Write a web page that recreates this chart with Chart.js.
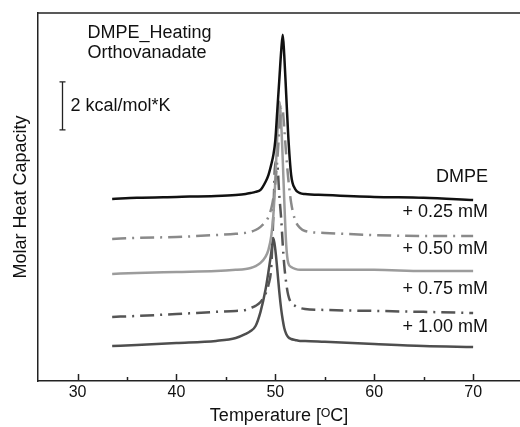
<!DOCTYPE html>
<html>
<head>
<meta charset="utf-8">
<script src="https://cdn.jsdelivr.net/npm/chart.js@4/dist/chart.umd.min.js"></script>
<style>
  html, body { margin: 0; padding: 0; background: #fff; }
  canvas { display: block; }
</style>
</head>
<body>
<canvas id="dsc" width="520" height="427"></canvas>
<script>
// temperature grid (°C), shared by all scans
const temps = [33.5, 36, 40, 44, 46, 47, 47.5, 48, 48.5, 49, 49.3, 49.6, 49.8, 50, 50.2, 50.4, 50.6, 50.75, 50.9, 51.1, 51.3, 51.6, 52, 52.5, 53, 55, 60, 65, 70];

// molar heat capacity (kcal/mol*K), curves offset vertically as in the figure
const dmpe   = [7.58, 7.63, 7.67, 7.71, 7.75, 7.79, 7.83, 7.88, 7.96, 8.29, 8.58, 9.04, 9.42, 10.04, 11.29, 12.54, 13.79, 14.42, 13.58, 11.92, 10.25, 8.58, 8.0, 7.83, 7.79, 7.75, 7.67, 7.63, 7.54];
const van025 = [5.92, 5.96, 6.0, 6.08, 6.13, 6.17, 6.21, 6.29, 6.42, 6.63, 6.83, 7.21, 7.63, 8.25, 9.21, 10.46, 11.42, 11.29, 10.54, 9.42, 8.46, 7.42, 6.71, 6.38, 6.25, 6.17, 6.08, 6.04, 6.04];
const van050 = [4.46, 4.5, 4.54, 4.58, 4.63, 4.67, 4.71, 4.79, 4.92, 5.17, 5.46, 6.08, 6.92, 8.38, 10.25, 11.63, 10.67, 9.21, 7.54, 5.67, 4.92, 4.75, 4.67, 4.63, 4.63, 4.63, 4.63, 4.58, 4.58];
const van075 = [2.67, 2.71, 2.79, 2.88, 2.92, 2.96, 3.04, 3.13, 3.29, 3.63, 4.0, 4.83, 6.92, 9.13, 9.0, 7.75, 6.71, 5.67, 4.83, 4.08, 3.58, 3.25, 3.13, 3.04, 3.0, 2.96, 2.92, 2.88, 2.83];
const van100 = [1.46, 1.5, 1.58, 1.67, 1.79, 1.96, 2.08, 2.29, 2.88, 3.79, 4.54, 5.38, 5.96, 5.46, 4.63, 3.71, 2.96, 2.54, 2.21, 1.96, 1.83, 1.75, 1.71, 1.67, 1.67, 1.63, 1.54, 1.46, 1.42];

const seriesNames = ["DMPE", "+ 0.25 mM", "+ 0.50 mM", "+ 0.75 mM", "+ 1.00 mM"];
const labelLevels = [8.5, 7.04, 5.5, 3.83, 2.25];   // where each curve name sits (kcal/mol*K)
const labelTemp = 71.5;

const titleLines = ["DMPE_Heating", "Orthovanadate"];
const titleTemp = 31.0;
const titleLevels = [14.5, 13.67];

const scaleBarTemp = 28.4;
const scaleBarFrom = 10.46;
const scaleBarSize = 2;   // kcal/mol*K
const scaleBarText = "2 kcal/mol*K";

const FONT = "'Liberation Sans', Arial, sans-serif";
const dashDot = [14, 6, 2, 6];

function pts(vals) {
    return temps.map((t, i) => ({x: t, y: vals[i]}));
}

const styles = [
    {color: "#111111", dash: []},
    {color: "#8a8a8a", dash: dashDot},
    {color: "#9c9c9c", dash: []},
    {color: "#555555", dash: dashDot},
    {color: "#4e4e4e", dash: []}
];
const allSeries = [dmpe, van025, van050, van075, van100];

// frame top line, inward x ticks, scale bar and text labels
const decor = {
    id: "decor",
    afterDraw(chart) {
        const ctx = chart.ctx;
        const a = chart.chartArea;
        const xs = chart.scales.x, ys = chart.scales.y;
        ctx.save();
        ctx.strokeStyle = "#222";
        ctx.lineWidth = 1.5;
        ctx.beginPath();
        ctx.moveTo(a.left, a.top);
        ctx.lineTo(a.right + 10, a.top);
        ctx.stroke();

        // ticks point into the plot
        xs.ticks.forEach(t => {
            if (t.value % 5 !== 0 || t.value < 30 || t.value > 70) return;
            const px = Math.round(xs.getPixelForValue(t.value)) + 0.5;
            const len = t.value % 10 === 0 ? 7 : 4;
            ctx.beginPath();
            ctx.moveTo(px, a.bottom);
            ctx.lineTo(px, a.bottom - len);
            ctx.stroke();
        });

        // 2 kcal/mol*K bar
        const bx = Math.round(xs.getPixelForValue(scaleBarTemp)) + 0.5;
        const by1 = ys.getPixelForValue(scaleBarFrom);
        const by2 = ys.getPixelForValue(scaleBarFrom + scaleBarSize);
        ctx.lineWidth = 1.3;
        ctx.beginPath();
        ctx.moveTo(bx, by1); ctx.lineTo(bx, by2);
        ctx.moveTo(bx - 3, by1); ctx.lineTo(bx + 3, by1);
        ctx.moveTo(bx - 3, by2); ctx.lineTo(bx + 3, by2);
        ctx.stroke();

        ctx.fillStyle = "#111";
        ctx.font = "18px " + FONT;
        ctx.textBaseline = "middle";
        ctx.textAlign = "left";
        ctx.fillText(scaleBarText, bx + 8, (by1 + by2) / 2);
        titleLines.forEach((s, i) => {
            ctx.fillText(s, xs.getPixelForValue(titleTemp), ys.getPixelForValue(titleLevels[i]));
        });
        ctx.textAlign = "right";
        seriesNames.forEach((s, i) => {
            ctx.fillText(s, xs.getPixelForValue(labelTemp), ys.getPixelForValue(labelLevels[i]));
        });
        ctx.restore();
    }
};

new Chart(document.getElementById("dsc"), {
    type: "line",
    data: {
        datasets: allSeries.map((vals, i) => ({
            label: seriesNames[i],
            data: pts(vals),
            borderColor: styles[i].color,
            borderDash: styles[i].dash,
            borderWidth: 2.5,
            pointRadius: 0,
            fill: false,
            cubicInterpolationMode: "monotone"
        }))
    },
    options: {
        responsive: false,
        animation: false,
        devicePixelRatio: 1,
        layout: {padding: {top: 13, right: 0, left: 0, bottom: 0}},
        plugins: {legend: {display: false}, tooltip: {enabled: false}},
        scales: {
            x: {
                type: "linear",
                min: 26,
                max: 74.74,
                grid: {drawOnChartArea: false, drawTicks: false},
                border: {color: "#222", width: 1.5},
                ticks: {
                    stepSize: 5,
                    includeBounds: false,
                    autoSkip: false,
                    maxRotation: 0,
                    padding: 2,
                    color: "#111",
                    font: {family: FONT, size: 16},
                    callback: v => (v % 10 === 0 ? String(v) : "")
                },
                title: {
                    display: true,
                    text: "Temperature [ᴼC]",
                    color: "#111",
                    font: {family: FONT, size: 18},
                    padding: {top: 0, bottom: 0}
                },
                afterFit: s => { s.height = 46; }
            },
            y: {
                min: 0,
                max: 15.33,
                grid: {drawOnChartArea: false, drawTicks: false},
                border: {color: "#222", width: 1.5},
                ticks: {display: false},
                title: {
                    display: true,
                    text: "Molar Heat Capacity",
                    color: "#111",
                    font: {family: FONT, size: 18},
                    padding: {top: 10, bottom: 0}
                },
                afterFit: s => { s.width = 38; }
            }
        }
    },
    plugins: [decor]
});
</script>
</body>
</html>
